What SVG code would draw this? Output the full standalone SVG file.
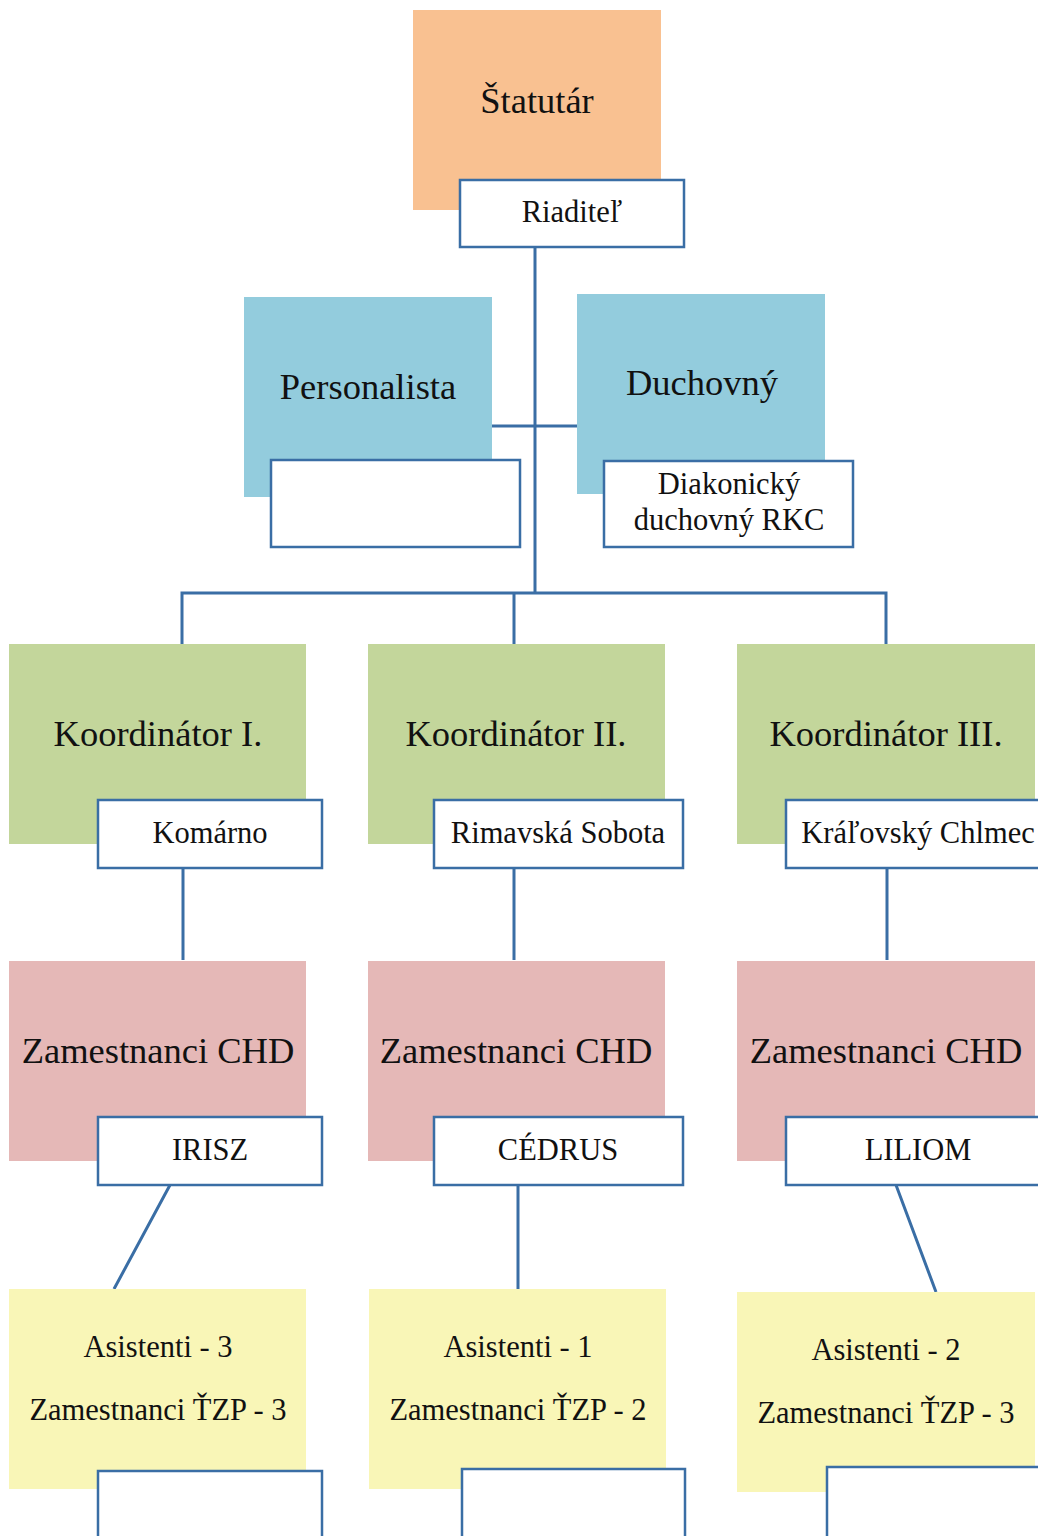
<svg xmlns="http://www.w3.org/2000/svg" width="1038" height="1536" viewBox="0 0 1038 1536">
<style>
text{font-family:"Liberation Serif","DejaVu Serif",serif;fill:#111;text-anchor:middle}
.big{font-size:36.5px}
.sm{font-size:30.5px}
.lbl{fill:#fff;stroke:#3A6EA5;stroke-width:2.5}
.orange{fill:#F9C191}
.blue{fill:#93CCDD}
.green{fill:#C3D69B}
.pink{fill:#E5B8B7}
.yellow{fill:#F9F6B7}
.con{stroke:#3A6EA5;stroke-width:3;fill:none}
</style>
<rect width="1038" height="1536" fill="#fff"/>
<g id="connectors">
<path class="con" d="M535 247 V593 M492 426 H577 M182 644 V593 H886 V644 M514 593 V644"/>
<path class="con" d="M183 868 V960 M514 868 V960 M887 868 V960"/>
<path class="con" d="M170 1185 L114 1289 M518 1185 V1289 M896 1185 L936 1292"/>
</g>
<g id="statutar">
<rect class="orange" x="413" y="10" width="248" height="200"/>
<text class="big" x="537" y="113">Štatutár</text>
<rect class="lbl" x="460" y="180" width="224" height="67"/>
<text class="sm" x="572" y="222">Riaditeľ</text>
</g>
<g id="personalista">
<rect class="blue" x="244" y="297" width="248" height="200"/>
<text class="big" x="368" y="399">Personalista</text>
<rect class="lbl" x="271" y="460" width="249" height="87"/>
</g>
<g id="duchovny">
<rect class="blue" x="577" y="294" width="248" height="200"/>
<text class="big" x="702" y="395">Duchovný</text>
<rect class="lbl" x="604" y="461" width="249" height="86"/>
<text class="sm" x="729" y="494">Diakonický</text>
<text class="sm" x="729" y="530">duchovný RKC</text>
</g>
<g id="koord1">
<rect class="green" x="9" y="644" width="297" height="200"/>
<text class="big" x="158" y="746">Koordinátor I.</text>
<rect class="lbl" x="98" y="800" width="224" height="68"/>
<text class="sm" x="210" y="843">Komárno</text>
</g>
<g id="koord2">
<rect class="green" x="368" y="644" width="297" height="200"/>
<text class="big" x="516" y="746">Koordinátor II.</text>
<rect class="lbl" x="434" y="800" width="249" height="68"/>
<text class="sm" x="558" y="843">Rimavská Sobota</text>
</g>
<g id="koord3">
<rect class="green" x="737" y="644" width="298" height="200"/>
<text class="big" x="886" y="746">Koordinátor III.</text>
<rect class="lbl" x="786" y="800" width="260" height="68"/>
<text class="sm" x="918" y="843">Kráľovský Chlmec</text>
</g>
<g id="chd1">
<rect class="pink" x="9" y="961" width="297" height="200"/>
<text class="big" x="158" y="1063">Zamestnanci CHD</text>
<rect class="lbl" x="98" y="1117" width="224" height="68"/>
<text class="sm" x="210" y="1160">IRISZ</text>
</g>
<g id="chd2">
<rect class="pink" x="368" y="961" width="297" height="200"/>
<text class="big" x="516" y="1063">Zamestnanci CHD</text>
<rect class="lbl" x="434" y="1117" width="249" height="68"/>
<text class="sm" x="558" y="1160">CÉDRUS</text>
</g>
<g id="chd3">
<rect class="pink" x="737" y="961" width="298" height="200"/>
<text class="big" x="886" y="1063">Zamestnanci CHD</text>
<rect class="lbl" x="786" y="1117" width="260" height="68"/>
<text class="sm" x="918" y="1160">LILIOM</text>
</g>
<g id="asist1">
<rect class="yellow" x="9" y="1289" width="297" height="200"/>
<text class="sm" x="158" y="1357">Asistenti - 3</text>
<text class="sm" x="158" y="1420">Zamestnanci ŤZP - 3</text>
<rect class="lbl" x="98" y="1471" width="224" height="80"/>
</g>
<g id="asist2">
<rect class="yellow" x="369" y="1289" width="297" height="200"/>
<text class="sm" x="518" y="1357">Asistenti - 1</text>
<text class="sm" x="518" y="1420">Zamestnanci ŤZP - 2</text>
<rect class="lbl" x="462" y="1469" width="223" height="80"/>
</g>
<g id="asist3">
<rect class="yellow" x="737" y="1292" width="298" height="200"/>
<text class="sm" x="886" y="1360">Asistenti - 2</text>
<text class="sm" x="886" y="1423">Zamestnanci ŤZP - 3</text>
<rect class="lbl" x="827" y="1467" width="220" height="80"/>
</g>
</svg>
